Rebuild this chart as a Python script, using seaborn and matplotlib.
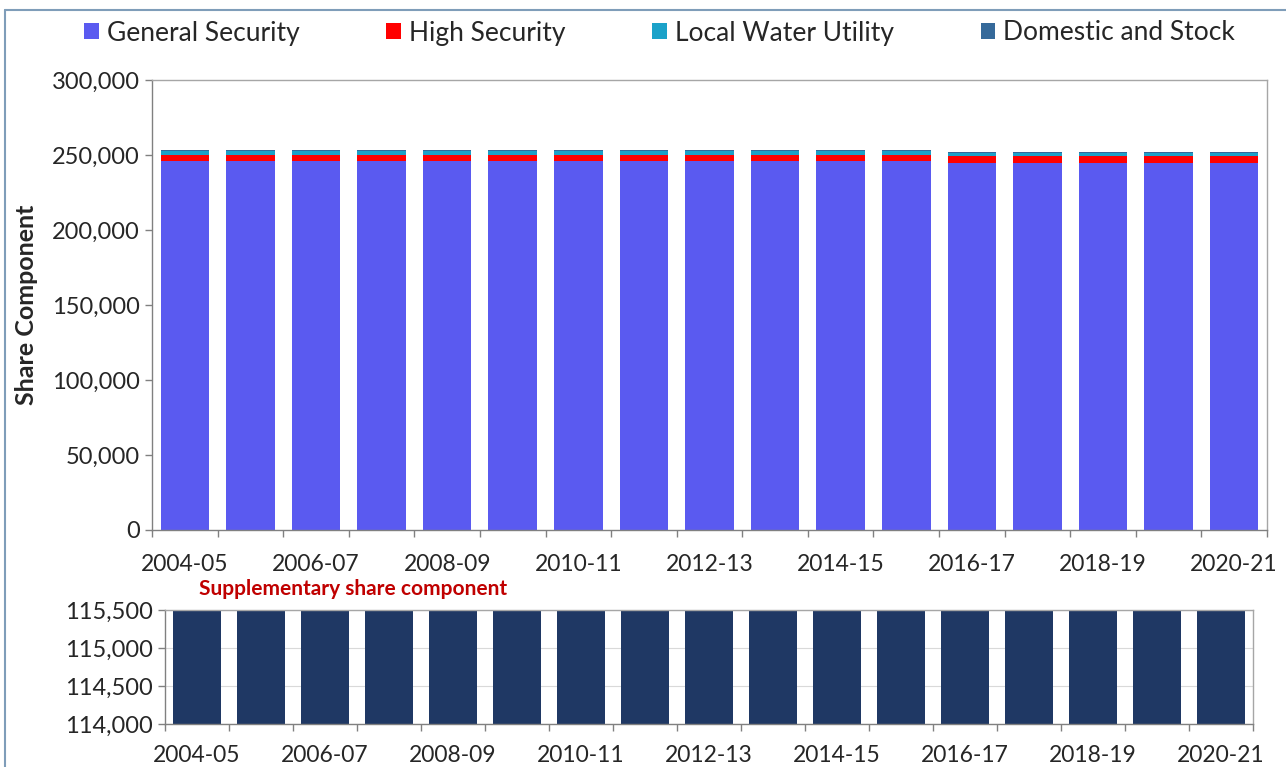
import numpy as np
import matplotlib
matplotlib.use("Agg")
import matplotlib.pyplot as plt
import seaborn as sns
from matplotlib.patches import Patch
from matplotlib.ticker import FuncFormatter, FixedLocator
from matplotlib.lines import Line2D

# data
years = ["2004-05", "2005-06", "2006-07", "2007-08", "2008-09", "2009-10",
         "2010-11", "2011-12", "2012-13", "2013-14", "2014-15", "2015-16",
         "2016-17", "2017-18", "2018-19", "2019-20", "2020-21"]
general_security = [246000] * 12 + [244800] * 5
high_security = [3900] * 12 + [4200] * 5
local_water_utility = [2600] * 12 + [2000] * 5
domestic_stock = [900] * 12 + [1200] * 5
supplementary = [116000] * 17

series_names = ["General Security", "High Security", "Local Water Utility", "Domestic and Stock"]
series_colors = ["#5a5af0", "#ff0000", "#1ba2c9", "#35699a"]
supp_color = "#1f3864"

sns.set_style("white")
plt.rcParams['font.family'] = ['Lato', 'DejaVu Sans']

fig = plt.figure(figsize=(12.86, 7.67), dpi=100)
ax1 = fig.add_axes([0.1182, 0.3090, 0.867, 0.5867])
ax2 = fig.add_axes([0.1283, 0.0561, 0.846, 0.1486])

# top panel: stacked bars
bottom = np.zeros(len(years))
for name, vals, col in zip(series_names,
                           [general_security, high_security, local_water_utility, domestic_stock],
                           series_colors):
    sns.barplot(x=years, y=vals, bottom=bottom, color=col, width=0.74,
                errorbar=None, ax=ax1, linewidth=0, saturation=1)
    bottom = bottom + np.array(vals)

ax1.set_ylim(0, 300000)
ax1.set_xlim(-0.5, len(years) - 0.5)
ax1.yaxis.set_major_formatter(FuncFormatter(lambda v, p: f"{int(v):,}"))
ax1.set_yticks(np.arange(0, 300001, 50000))
ax1.set_ylabel("Share Component", fontsize=18, fontweight="bold", labelpad=10)

# bottom panel: supplementary
sns.barplot(x=years, y=supplementary, color=supp_color, width=0.74,
            errorbar=None, ax=ax2, linewidth=0, saturation=1)
ax2.set_ylim(114000, 115500)
ax2.set_xlim(-0.5, len(years) - 0.5)
ax2.set_yticks([114000, 114500, 115000, 115500])
ax2.yaxis.set_major_formatter(FuncFormatter(lambda v, p: f"{int(v):,}"))
ax2.grid(axis="y", color="#d9d9d9", linewidth=0.8)
ax2.set_axisbelow(True)

for ax, xpad in ((ax1, 17), (ax2, 15)):
    # tick marks between categories, labels every other category
    ax.xaxis.set_major_locator(FixedLocator(np.arange(-0.5, len(years), 1.0)))
    ax.xaxis.set_major_formatter(FuncFormatter(lambda v, p: ""))
    ax.xaxis.set_minor_locator(FixedLocator(np.arange(0, len(years), 2)))
    ax.set_xticklabels([years[i] for i in range(0, len(years), 2)], minor=True)
    ax.tick_params(axis="x", which="major", length=5, width=1, color="#808080", direction="out", bottom=True)
    ax.tick_params(axis="x", which="minor", length=0, labelsize=16.5, pad=xpad)
    ax.tick_params(axis="y", length=5, width=1, color="#808080", direction="out", left=True, labelsize=17, pad=4)
    ax.set_xlabel("")
    for s in ax.spines.values():
        s.set_color("#a6a6a6")
        s.set_linewidth(1.0)
    ax.spines["left"].set_color("#808080")
    ax.spines["bottom"].set_color("#808080")

fig.text(0.155, 1 - 589 / 767, "Supplementary share component", color="#c00000",
         fontsize=15, fontweight="bold", va="center", ha="left")

handles = [Patch(facecolor=c, edgecolor="none") for c in series_colors]
fig.legend(handles, series_names, loc="center", bbox_to_anchor=(0.513, 1 - 33 / 767),
           ncol=4, frameon=False, fontsize=19, handlelength=0.55, handleheight=0.55,
           handletextpad=0.3, columnspacing=3.3)

# outer border
fig.add_artist(Line2D([0.004, 0.004], [0, 0.987], transform=fig.transFigure, color="#7f9db9", linewidth=1.5))
fig.add_artist(Line2D([0.004, 1.0], [0.987, 0.987], transform=fig.transFigure, color="#7f9db9", linewidth=1.5))

fig.savefig("out.png", dpi=100, facecolor="white")
